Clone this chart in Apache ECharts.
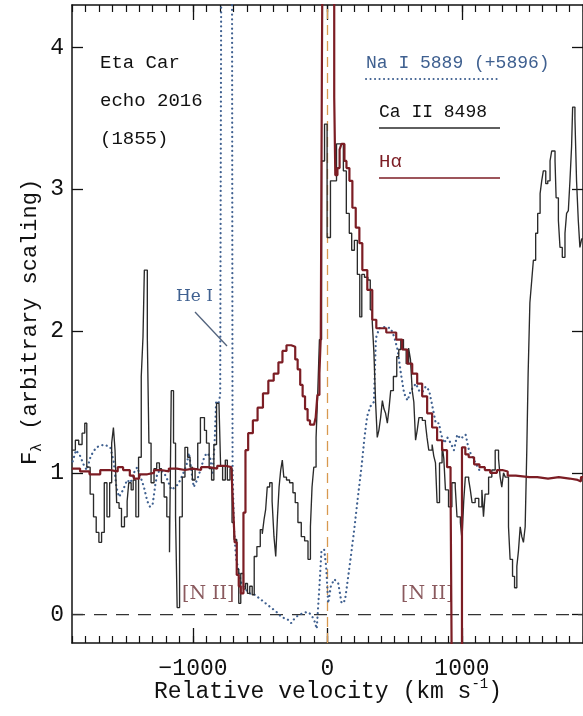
<!DOCTYPE html>
<html><head><meta charset="utf-8">
<script src="https://cdn.jsdelivr.net/npm/echarts@6/dist/echarts.min.js"></script>
<style>html,body{margin:0;padding:0;background:#fff}#c{width:583px;height:716px}</style>
</head><body><div id="c"></div><script>
// ---- axis ticks / labels ----
const xMajorTicks = [-1000, 0, 1000];
const yMajorTicks = [0, 1, 2, 3, 4];
const X_MIN = -1900, X_MAX = 1900, Y_MIN = -0.2, Y_MAX = 4.3;

// ---- Ca II 8498 (step) [velocity, flux] ----
const caII = [[-1900,1.16],[-1875,1.23],[-1850,1.20],[-1825,1.28],[-1805,1.35],[-1790,1.04],[-1765,0.85],[-1740,0.69],[-1720,0.58],[-1700,0.51],[-1680,0.58],[-1660,0.93],[-1640,0.69],[-1620,0.93],[-1605,1.21],[-1592,1.32],[-1580,1.16],[-1568,0.79],[-1550,0.75],[-1532,0.62],[-1510,0.69],[-1490,0.80],[-1478,0.93],[-1460,0.88],[-1445,0.95],[-1425,0.69],[-1405,1.11],[-1385,1.68],[-1372,1.96],[-1362,2.43],[-1340,1.96],[-1328,1.21],[-1312,0.93],[-1290,1.03],[-1270,1.07],[-1250,1.03],[-1235,0.93],[-1215,0.83],[-1195,0.69],[-1175,0.44],[-1162,1.58],[-1145,1.21],[-1130,0.69],[-1118,0.05],[-1100,0.69],[-1080,0.97],[-1060,1.18],[-1040,1.11],[-1022,1.04],[-1005,0.95],[-985,1.03],[-965,1.21],[-945,1.39],[-915,1.30],[-900,1.21],[-880,1.03],[-862,0.95],[-845,1.20],[-825,1.49],[-807,1.50],[-795,1.05],[-780,0.95],[-760,1.09],[-745,0.95],[-725,1.03],[-710,0.65],[-695,0.53],[-675,0.32],[-660,0.08],[-645,0.29],[-625,0.18],[-610,0.22],[-595,0.15],[-578,0.20],[-560,0.14],[-545,0.41],[-525,0.48],[-500,0.60],[-485,0.57],[-472,0.67],[-460,0.74],[-448,0.90],[-430,0.93],[-412,0.80],[-398,0.55],[-385,0.41],[-372,0.69],[-360,0.90],[-348,1.02],[-336,1.09],[-325,0.97],[-305,0.95],[-282,0.93],[-257,0.86],[-240,0.79],[-220,0.65],[-195,0.55],[-170,0.52],[-145,0.39],[-127,0.62],[-115,0.90],[-102,1.04],[-85,1.25],[-72,1.58],[-60,1.94],[-44,3.20],[-22,3.46],[-3,2.66],[22,3.06],[67,3.32],[118,3.13],[140,2.83],[162,2.69],[180,2.57],[200,2.64],[222,2.40],[240,2.10],[255,2.40],[275,2.38],[300,2.36],[318,2.15],[333,2.06],[345,1.85],[358,1.49],[370,1.25],[382,1.30],[395,1.39],[408,1.51],[420,1.45],[432,1.42],[445,1.35],[457,1.45],[470,1.58],[490,1.68],[515,1.82],[530,1.87],[545,1.94],[565,1.87],[585,1.77],[603,1.88],[617,1.80],[630,1.58],[642,1.50],[655,1.23],[667,1.30],[680,1.39],[705,1.37],[728,1.35],[740,1.25],[753,1.16],[778,1.20],[790,1.12],[803,1.07],[815,0.79],[833,1.07],[852,1.20],[865,1.10],[877,0.88],[900,0.76],[925,0.93],[950,0.90],[963,0.69],[988,0.65],[1000,0.53],[1013,0.80],[1025,0.97],[1050,0.95],[1062,0.88],[1075,0.79],[1098,0.82],[1125,0.76],[1148,0.88],[1160,0.69],[1172,0.85],[1198,0.97],[1222,1.02],[1247,1.16],[1272,1.10],[1284,0.97],[1296,0.90],[1309,1.00],[1322,0.97],[1346,0.62],[1358,0.39],[1376,0.27],[1391,0.19],[1408,0.34],[1420,0.45],[1433,0.62],[1445,0.55],[1457,0.51],[1470,0.62],[1482,1.16],[1492,1.70],[1505,2.20],[1519,2.36],[1531,2.50],[1548,2.69],[1563,2.83],[1581,2.97],[1593,3.06],[1605,3.13],[1623,3.04],[1638,3.06],[1655,3.20],[1667,3.27],[1692,3.20],[1700,2.94],[1717,2.78],[1729,2.59],[1746,2.52],[1766,2.69],[1778,2.83],[1791,2.85],[1803,3.06],[1815,3.30],[1823,3.58],[1840,3.50],[1852,3.06],[1865,2.78],[1877,2.59],[1890,2.65],[1900,2.65]];

// ---- H-alpha (step) ----
const hAlpha = [[-1900,1.03],[-1840,1.01],[-1770,0.99],[-1690,1.02],[-1620,1.01],[-1560,1.04],[-1520,1.02],[-1470,0.98],[-1440,0.96],[-1400,0.99],[-1340,1.00],[-1290,1.02],[-1240,1.01],[-1180,1.03],[-1120,1.02],[-1060,1.03],[-1000,1.02],[-940,1.04],[-880,1.03],[-820,1.05],[-760,1.04],[-715,1.03],[-704,0.80],[-690,0.51],[-675,0.28],[-660,0.20],[-645,0.15],[-625,0.72],[-610,1.16],[-590,1.28],[-555,1.37],[-520,1.46],[-480,1.56],[-440,1.65],[-400,1.70],[-365,1.78],[-335,1.86],[-305,1.90],[-270,1.89],[-240,1.80],[-222,1.73],[-203,1.62],[-185,1.54],[-167,1.45],[-148,1.37],[-130,1.34],[-100,1.34],[-88,1.39],[-75,1.55],[-60,1.70],[-50,1.96],[-42,3.79],[-30,6.0],[50,3.65],[58,3.10],[74,3.15],[90,3.28],[104,3.32],[126,3.20],[141,3.15],[163,3.06],[185,2.87],[210,2.73],[237,2.62],[259,2.43],[296,2.29],[333,2.08],[363,2.02],[437,1.99],[511,1.94],[555,1.87],[593,1.77],[630,1.70],[667,1.63],[704,1.54],[741,1.42],[778,1.32],[815,1.23],[852,1.16],[889,1.04],[915,0.93],[928,-1.0],[1000,1.18],[1025,1.13],[1050,1.11],[1090,1.06],[1130,1.04],[1170,1.02],[1210,1.00],[1260,1.02],[1300,1.01],[1340,0.98],[1400,0.97],[1500,0.97],[1560,0.96],[1640,0.97],[1720,0.96],[1800,0.95],[1860,0.94],[1885,0.97],[1900,0.97]];

// ---- Na I 5889 (+5896) (dotted) ----
const naI = [[-1895,1.08],[-1870,1.16],[-1840,1.12],[-1810,1.05],[-1790,1.02],[-1760,1.12],[-1720,1.18],[-1660,1.20],[-1615,1.18],[-1590,1.08],[-1570,0.90],[-1550,0.83],[-1520,0.88],[-1490,0.95],[-1465,0.93],[-1440,1.00],[-1415,1.04],[-1390,0.97],[-1365,0.90],[-1340,0.80],[-1320,0.76],[-1300,0.78],[-1280,0.92],[-1265,1.00],[-1240,1.02],[-1215,1.00],[-1190,0.95],[-1160,0.88],[-1135,0.90],[-1110,0.92],[-1080,0.98],[-1050,1.05],[-1030,1.14],[-1010,1.00],[-995,0.90],[-970,0.95],[-945,1.02],[-920,1.10],[-900,1.14],[-875,1.12],[-855,1.00],[-840,1.20],[-828,1.51],[-812,1.48],[-798,1.55],[-790,4.6],[-710,4.6],[-706,1.02],[-695,0.60],[-680,0.40],[-660,0.30],[-640,0.22],[-610,0.18],[-580,0.15],[-540,0.14],[-500,0.11],[-460,0.08],[-420,0.05],[-380,0.02],[-340,-0.02],[-300,-0.03],[-270,-0.06],[-240,-0.02],[-210,0.00],[-180,0.01],[-150,0.02],[-120,0.00],[-95,-0.05],[-80,-0.10],[-60,0.20],[-45,0.45],[-25,0.46],[-10,0.34],[5,0.08],[25,0.20],[50,0.25],[80,0.22],[105,0.08],[130,0.10],[150,0.24],[175,0.42],[200,0.61],[225,0.82],[255,1.06],[275,1.25],[295,1.40],[320,1.47],[345,1.50],[360,1.95],[385,2.02],[430,2.03],[470,2.02],[496,1.96],[521,1.87],[546,1.70],[570,1.56],[595,1.51],[620,1.58],[657,1.63],[681,1.58],[706,1.57],[731,1.61],[756,1.58],[780,1.47],[805,1.35],[830,1.35],[842,1.28],[867,1.21],[891,1.25],[916,1.21],[940,1.16],[965,1.27],[990,1.24],[1027,1.27],[1052,1.16],[1101,1.07],[1140,1.00]];

// ---- reference lines ----
const zeroLine = [[X_MIN, 0], [X_MAX, 0]];
const restLine = [[0, Y_MIN], [0, Y_MAX]];

const MONO = '"Liberation Mono", monospace';
const SERIF = '"DejaVu Serif", serif';
const INK = '#111';
const RED = '#7c1d24';
const BLUE = '#3f6090';

const fmtX = v => v < 0 ? '\u2212' + Math.abs(v) : String(v);

function xAx(pos, major) {
  return {
    type: 'value', position: pos, min: X_MIN, max: X_MAX,
    interval: major ? undefined : 100,
    axisLine: { show: major, onZero: false, lineStyle: { color: INK, width: 1.5 } },
    axisTick: major
      ? { show: true, inside: true, length: 15, customValues: xMajorTicks, lineStyle: { color: INK, width: 1.3 } }
      : { show: true, inside: true, length: 7, lineStyle: { color: INK, width: 1.2 } },
    axisLabel: (major && pos === 'bottom')
      ? { show: true, customValues: xMajorTicks, formatter: fmtX, fontFamily: MONO, fontSize: 23, color: INK, margin: 14 }
      : { show: false },
    splitLine: { show: false }
  };
}
function yAx(pos) {
  return {
    type: 'value', position: pos, min: Y_MIN, max: Y_MAX,
    axisLine: { show: true, onZero: false, lineStyle: { color: INK, width: 1.5 } },
    axisTick: { show: true, inside: true, length: 11, customValues: yMajorTicks, lineStyle: { color: INK, width: 1.3 } },
    axisLabel: pos === 'left'
      ? { show: true, customValues: yMajorTicks, fontFamily: MONO, fontSize: 23, color: INK, margin: 8 }
      : { show: false },
    splitLine: { show: false }
  };
}

const chart = echarts.init(document.getElementById('c'), null, { renderer: 'canvas' });
chart.setOption({
  animation: false,
  backgroundColor: '#fff',
  grid: { left: 72, top: 5, width: 511, height: 638, containLabel: false, outerBoundsMode: 'none' },
  xAxis: [xAx('bottom', true), xAx('bottom', false), xAx('top', true), xAx('top', false)],
  yAxis: [yAx('left'), yAx('right')],
  series: [
    { type: 'line', name: 'zero', data: zeroLine, symbol: 'none', silent: true, z: 1,
      lineStyle: { color: '#333', width: 1.3, type: [13, 9] } },
    { type: 'line', name: 'rest', data: restLine, symbol: 'none', silent: true, z: 1,
      lineStyle: { color: '#d8994f', width: 1.3, type: [10, 6] } },
    { type: 'line', name: 'Na I 5889 (+5896)', data: naI, symbol: 'none', silent: true, z: 2,
      lineStyle: { color: BLUE, width: 2.2, type: [0.1, 4.6], cap: 'round' } },
    { type: 'line', name: 'Ca II 8498', data: caII, step: 'end', symbol: 'none', silent: true, z: 3,
      lineStyle: { color: '#2a2a2a', width: 1.35 } },
    { type: 'line', name: 'H\u03b1', data: hAlpha, step: 'end', symbol: 'none', silent: true, z: 4,
      lineStyle: { color: RED, width: 2.2 } }
  ],
  graphic: [
    { type: 'text', x: 100, y: 63, style: { text: 'Eta Car', fontFamily: MONO, fontSize: 19, fill: INK, verticalAlign: 'middle' } },
    { type: 'text', x: 100, y: 101, style: { text: 'echo 2016', fontFamily: MONO, fontSize: 19, fill: INK, verticalAlign: 'middle' } },
    { type: 'text', x: 100, y: 139, style: { text: '(1855)', fontFamily: MONO, fontSize: 19, fill: INK, verticalAlign: 'middle' } },

    { type: 'text', x: 366, y: 63, style: { text: 'Na I 5889 (+5896)', fontFamily: MONO, fontSize: 18, fill: BLUE, verticalAlign: 'middle' } },
    { type: 'line', shape: { x1: 366, y1: 79, x2: 500, y2: 79 }, style: { stroke: BLUE, lineWidth: 2, lineDash: [0.1, 4.4], lineCap: 'round' } },
    { type: 'text', x: 379, y: 112, style: { text: 'Ca II 8498', fontFamily: MONO, fontSize: 18, fill: INK, verticalAlign: 'middle' } },
    { type: 'line', shape: { x1: 379, y1: 128, x2: 500, y2: 128 }, style: { stroke: '#2a2a2a', lineWidth: 1.4 } },
    { type: 'text', x: 379, y: 162, style: { text: 'H\u03b1', fontFamily: MONO, fontSize: 19, fill: RED, verticalAlign: 'middle' } },
    { type: 'line', shape: { x1: 379, y1: 178, x2: 500, y2: 178 }, style: { stroke: RED, lineWidth: 1.4 } },

    { type: 'text', x: 176, y: 297, style: { text: 'He I', fontFamily: SERIF, fontSize: 17, fill: BLUE, verticalAlign: 'middle' } },
    { type: 'line', shape: { x1: 195, y1: 312, x2: 227, y2: 346 }, style: { stroke: '#52637d', lineWidth: 1.3 } },
    { type: 'text', x: 182, y: 594, style: { text: '[N II]', fontFamily: SERIF, fontSize: 19, fill: '#8a5a5e', verticalAlign: 'middle' } },
    { type: 'text', x: 401, y: 594, style: { text: '[N II]', fontFamily: SERIF, fontSize: 19, fill: '#8a5a5e', verticalAlign: 'middle' } },

    { type: 'text', x: 30, y: 322, rotation: Math.PI / 2,
      style: { text: '{m|F}{s|\u03bb}{m| (arbitrary scaling)}', align: 'center', verticalAlign: 'middle',
        rich: { m: { fontFamily: MONO, fontSize: 22, lineHeight: 30, fill: INK, color: INK },
                s: { fontFamily: MONO, fontSize: 15, lineHeight: 14, verticalAlign: 'bottom', fill: INK, color: INK } } } },
    { type: 'text', x: 328, y: 692,
      style: { text: '{m|Relative velocity (km s}{p|-1}{m|)}', align: 'center', verticalAlign: 'middle',
        rich: { m: { fontFamily: MONO, fontSize: 23, lineHeight: 30, fill: INK, color: INK },
                p: { fontFamily: MONO, fontSize: 14, lineHeight: 14, verticalAlign: 'top', fill: INK, color: INK } } } }
  ]
});
</script></body></html>
